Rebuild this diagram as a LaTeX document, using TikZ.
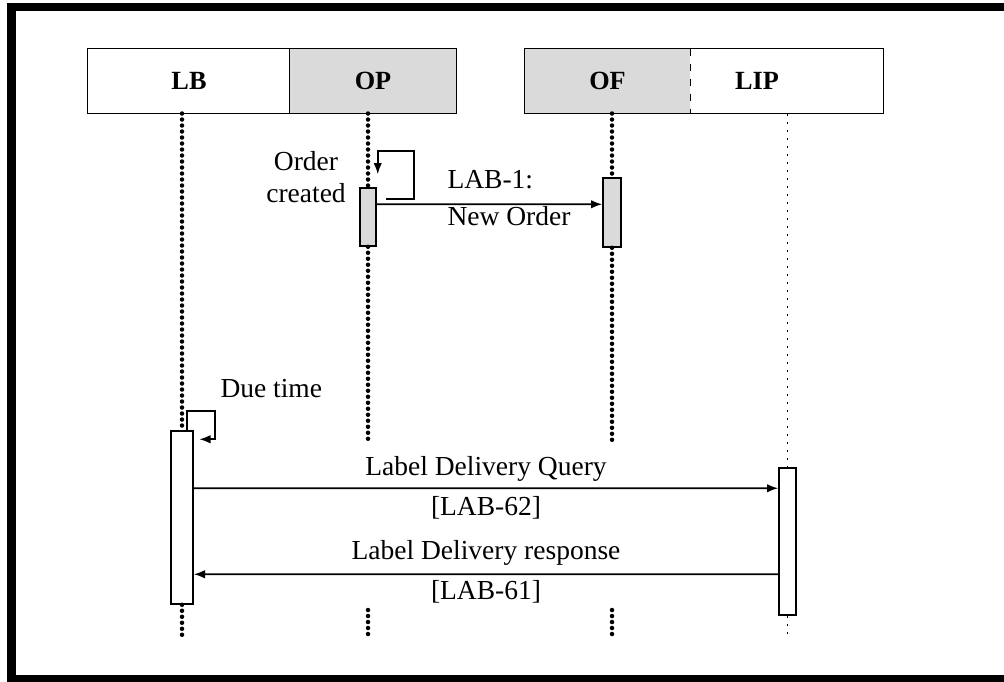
\documentclass[tikz,border=0pt]{standalone}
\usepackage{fontspec}
\setmainfont{Liberation Serif}
\usetikzlibrary{positioning,arrows.meta,calc}
\definecolor{boxgray}{RGB}{218,218,218}
\tikzset{
  headbox/.style={draw=none,minimum height=25.6pt,inner sep=0pt,font=\fontsize{10.5}{12}\selectfont\bfseries},
  actbox/.style={draw,line width=0.6pt,inner sep=0pt},
  lifeline/.style={line width=1.8pt,line cap=round,dash pattern=on 0pt off 2.4pt},
  thinlife/.style={line width=0.5pt,dash pattern=on 0.8pt off 2.4pt},
  msg/.style={line width=0.7pt,-{Latex[length=4.5pt,width=3.4pt]}},
  msgtext/.style={inner sep=0pt,align=center,font=\fontsize{11}{13}\selectfont}
}

\begin{document}
\begin{tikzpicture}[x=0.4pt,y=-0.4pt]
  \useasboundingbox (0,0) rectangle (1004,681);
  \draw[line width=3.4pt] (11.5,7) rectangle (1012,679);
  % heads: LB OP | OF LIP
  \node[headbox,minimum width=80.8pt] (lb) at (189,81) {LB};
  \node[headbox,fill=boxgray,minimum width=66.4pt] (op) at (373,81) {OP};
  \node[headbox,fill=boxgray,minimum width=66pt] (of) at (607.5,81) {OF};
  \node[headbox,minimum width=77.2pt] (lip) at (786.5,81) {};
  \node[headbox] (liptxt) at (757,81) {LIP};
  \draw[line width=0.7pt] (lb.north west) rectangle (op.south east);
  \draw[line width=0.6pt] (op.north west) -- (op.south west);
  \draw[line width=0.7pt] (of.north west) rectangle (lip.south east);
  \draw[line width=0.5pt,dashed] (of.north east) -- (of.south east);
  % activations
  \node[actbox,fill=boxgray,minimum width=6.4pt,minimum height=23.2pt] (opact) at (368,217) {};
  \node[actbox,fill=boxgray,minimum width=7.2pt,minimum height=27.6pt] (ofact) at (612,212.5) {};
  \node[actbox,fill=white,minimum width=8.8pt,minimum height=69.2pt] (lbact) at (182,517.5) {};
  \node[actbox,fill=white,minimum width=6.8pt,minimum height=58.8pt] (lipact) at (787.5,541.5) {};
  % lifeline ends
  \coordinate (lbend) at (182,637);
  \coordinate (opcut) at (368,440);
  \coordinate (opstub) at (368,610);
  \coordinate (opend) at (368,637);
  \coordinate (ofcut) at (612,440);
  \coordinate (ofstub) at (612,610);
  \coordinate (ofend) at (612,637);
  \coordinate (lipend) at (787.5,637);
  \draw[lifeline] (lb.south -| lbact.north) -- (lbact.north);
  \draw[lifeline] (lbact.south) -- (lbend);
  \draw[lifeline] (op.south -| opact.north) -- (opact.north);
  \draw[lifeline] (opact.south) -- (opcut);
  \draw[lifeline] (opstub) -- (opend);
  \draw[lifeline] (of.south -| ofact.north) -- (ofact.north);
  \draw[lifeline] (ofact.south) -- (ofcut);
  \draw[lifeline] (ofstub) -- (ofend);
  \draw[thinlife] (lip.south -| lipact.north) -- (lipact.north);
  \draw[thinlife] (lipact.south) -- (lipend);
  % messages
  \draw[msg] ($(opact.north east)+(9,12)$) -- ++(28,0) -- ++(0,-48) -- ++(-36,0) -- ++(0,23);
  \node[msgtext] (ordtxt) at (306,177) {Order\\created};
  \draw[msg] ($(opact.north east)+(0,17)$) -- ($(ofact.north west)+(0,27)$);
  \node[msgtext,align=left,anchor=west] (lab1txt) at (447,198) {LAB-1:\\[2pt]New Order};
  \draw[msg] ($(lbact.north west)+(17,0)$) -- ++(0,-19) -- ++(28,0) -- ++(0,28) -- ++(-16,0);
  \node[msgtext,anchor=west] (duetxt) at (220,389) {Due time};
  \draw[msg] ($(lbact.north east)+(0,58)$) -- ($(lipact.north west)+(0,21)$);
  \node[msgtext] (qrytxt) at (486,488) {Label Delivery Query\\[3pt][LAB-62]};
  \draw[msg] ($(lipact.north west)+(0,107)$) -- ($(lbact.north east)+(0,144)$);
  \node[msgtext] (rsptxt) at (486,572) {Label Delivery response\\[3pt][LAB-61]};
\end{tikzpicture}
\end{document}
